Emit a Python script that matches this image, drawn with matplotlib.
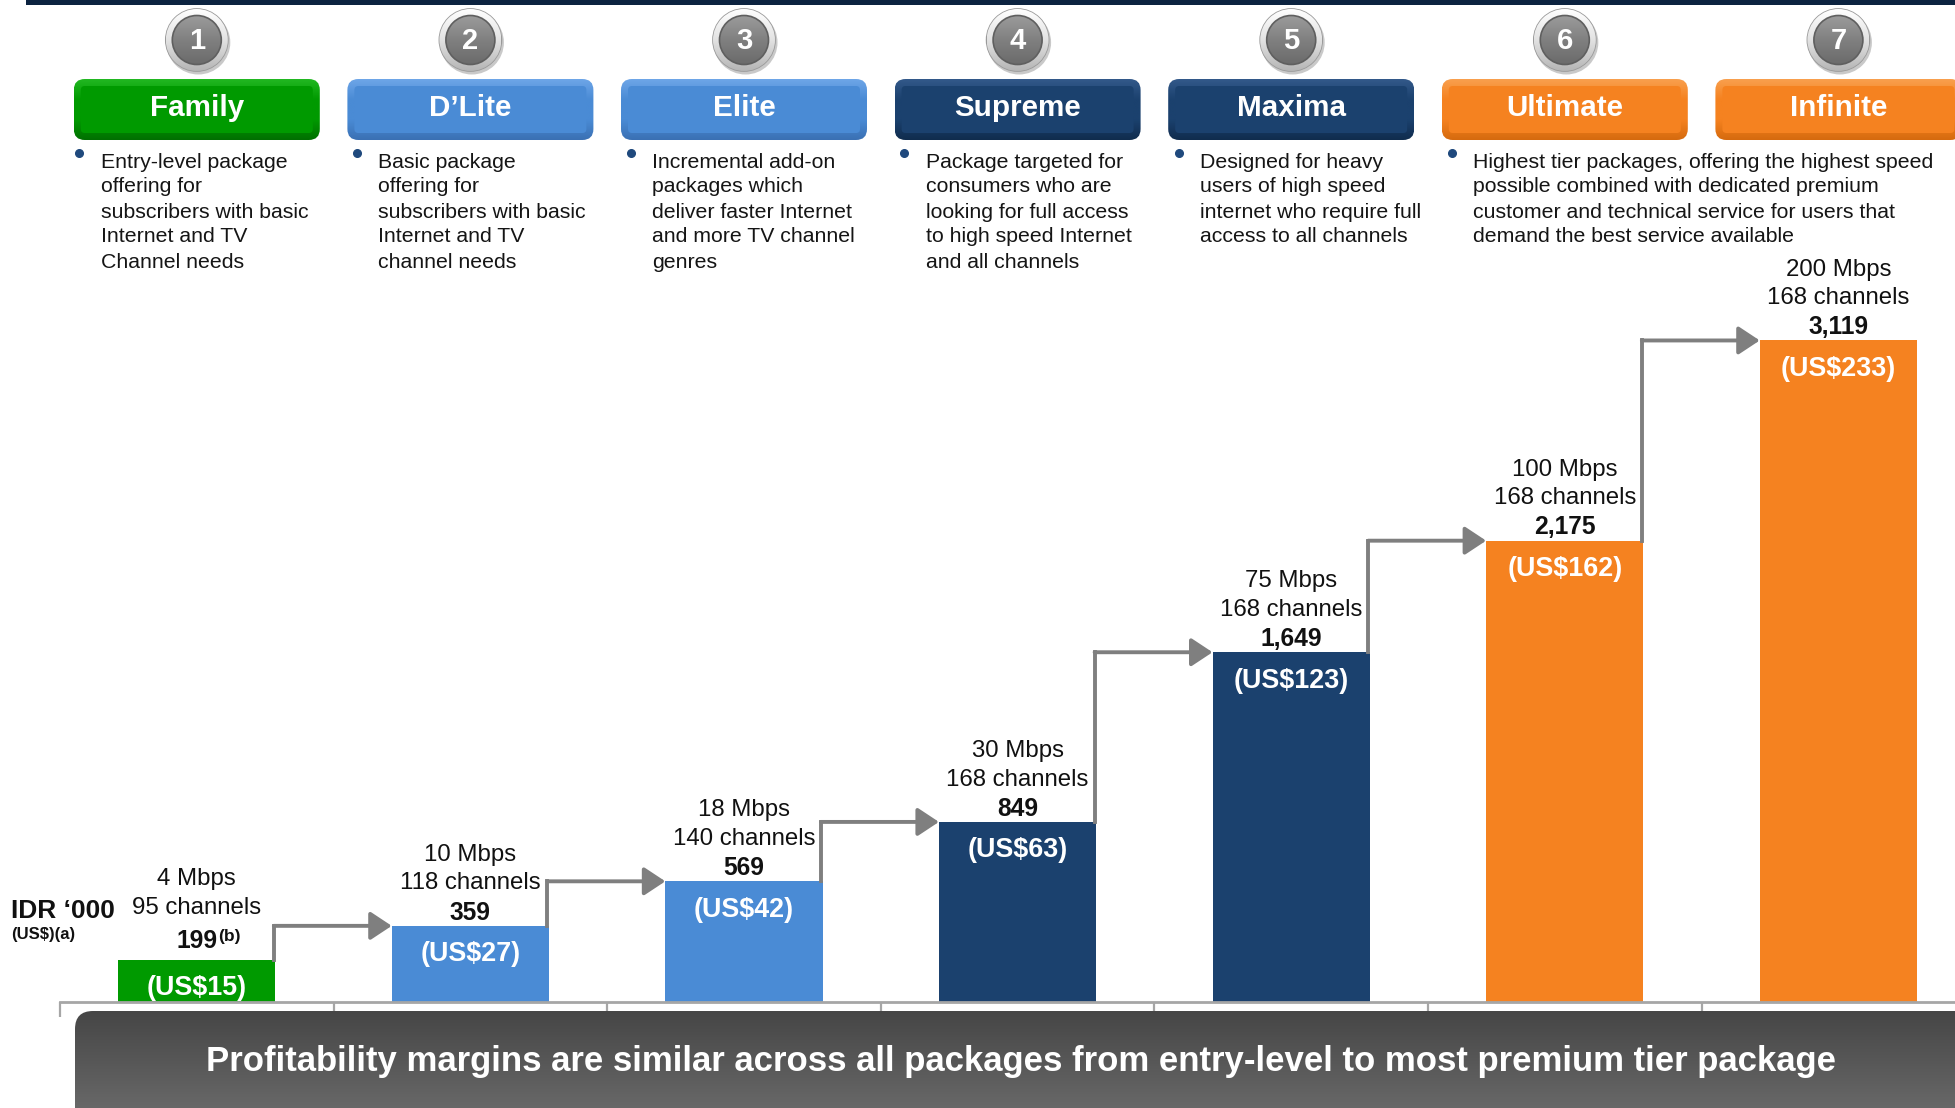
import numpy as np
import matplotlib
matplotlib.use("Agg")
import matplotlib.pyplot as plt
import matplotlib.colors as mcolors
from matplotlib.patches import FancyBboxPatch, Circle, Rectangle

plt.rcParams["font.family"] = ["Liberation Sans", "DejaVu Sans"]

# ---- data -------------------------------------------------------------
packages = ["Family", "D\u2019Lite", "Elite", "Supreme", "Maxima", "Ultimate", "Infinite"]
price_idr = [199, 359, 569, 849, 1649, 2175, 3119]          # IDR '000
price_usd = [15, 27, 42, 63, 123, 162, 233]                 # US$
speeds = ["4 Mbps", "10 Mbps", "18 Mbps", "30 Mbps", "75 Mbps", "100 Mbps", "200 Mbps"]
channels = [95, 118, 140, 168, 168, 168, 168]
tiers = ["green", "blue", "blue", "navy", "navy", "orange", "orange"]

descriptions = [
    "Entry-level package\noffering for\nsubscribers with basic\nInternet and TV\nChannel needs",
    "Basic package\noffering for\nsubscribers with basic\nInternet and TV\nchannel needs",
    "Incremental add-on\npackages which\ndeliver faster Internet\nand more TV channel\ngenres",
    "Package targeted for\nconsumers who are\nlooking for full access\nto high speed Internet\nand all channels",
    "Designed for heavy\nusers of high speed\ninternet who require full\naccess to all channels",
    "Highest tier packages, offering the highest speed\npossible combined with dedicated premium\n"
    "customer and technical service for users that\ndemand the best service available",
]

unit_label = "IDR \u2018000"
unit_sub = "(US$)(a)"
banner_text = ("Profitability margins are similar across all packages "
               "from entry-level to most premium tier package")

# colour sets: bar / box main, box light edge, box dark edge
palette = {
    "green":  ("#009a00", "#22b822", "#006f00"),
    "blue":   ("#4a8bd5", "#6ea6e8", "#3a70b3"),
    "navy":   ("#1b416e", "#33598a", "#102c4d"),
    "orange": ("#f58220", "#f9a04e", "#d56a0e"),
}

# ---- figure -------------------------------------------------------------
W, H = 1956, 1108
fig = plt.figure(figsize=(W / 100, H / 100), dpi=100)
fig.patch.set_facecolor("white")

pitch = 273.6          # px per category
ax_left = 60
px_per_unit = 0.2121
ymax = 3300
ax = fig.add_axes([ax_left / W, 106 / H, 7 * pitch / W, ymax * px_per_unit / H])
ax.patch.set_alpha(0)

x = np.arange(len(packages))
bw = 0.575
bar_colors = [palette[t][0] for t in tiers]
ax.bar(x, price_idr, width=bw, color=bar_colors, zorder=2)
ax.set_xlim(-0.5, 6.5)
ax.set_ylim(0, ymax)
for side in ["top", "right", "left"]:
    ax.spines[side].set_visible(False)
ax.spines["bottom"].set_color("#a6a6a6")
ax.spines["bottom"].set_linewidth(2)
ax.set_xticks(np.arange(-0.5, 7, 1))
ax.set_xticklabels([])
ax.set_yticks([])
ax.tick_params(axis="x", length=11, width=1.6, color="#a6a6a6", direction="out")

# value, speed and channel labels above each bar
for i, (v, usd, sp, ch) in enumerate(zip(price_idr, price_usd, speeds, channels)):
    if i == 0:
        offs = (13.5, 37.5, 58)
    else:
        offs = (9.5, 30.5, 51)
    ax.annotate(f"{v:,}", xy=(i, v), xytext=(0, offs[0]), textcoords="offset points",
                ha="center", va="center", fontsize=17.7, fontweight="bold", color="#111111")
    ax.annotate(f"{ch} channels", xy=(i, v), xytext=(0, offs[1]), textcoords="offset points",
                ha="center", va="center", fontsize=17.3, color="#111111")
    ax.annotate(sp, xy=(i, v), xytext=(0, offs[2]), textcoords="offset points",
                ha="center", va="center", fontsize=17.3, color="#111111")
    ax.annotate(f"(US${usd})", xy=(i, v), xytext=(0, -20.5), textcoords="offset points",
                ha="center", va="center", fontsize=19.4, fontweight="bold", color="white",
                zorder=3)
    if i == 0:
        ax.annotate("(b)", xy=(i, v), xytext=(15, offs[0] + 3.5), textcoords="offset points",
                    ha="left", va="center", fontsize=12.5, fontweight="bold", color="#111111")

# step arrows from each bar to the next
arrow_col = "#7f7f7f"
for i in range(len(packages) - 1):
    x0 = i + bw / 2 - 0.006
    x1 = i + 1 - bw / 2
    y0, y1 = price_idr[i], price_idr[i + 1]
    ax.plot([x0, x0], [y0, y1], color=arrow_col, lw=2.8, solid_capstyle="projecting", zorder=3)
    ax.annotate("", xy=(x1, y1), xytext=(x0, y1),
                arrowprops=dict(arrowstyle="-|>,head_length=0.65,head_width=0.43",
                                lw=2.8, color=arrow_col, shrinkA=0, shrinkB=0,
                                mutation_scale=20),
                zorder=3)

# ---- decorations drawn in pixel coordinates -------------------------------
deco = fig.add_axes([0, 0, 1, 1], zorder=3)
deco.patch.set_alpha(0)
deco.axis("off")


def vgradient(extent, colors, clip, z):
    grad = np.linspace(0, 1, 256)[:, None]
    cmap = mcolors.LinearSegmentedColormap.from_list("g", colors)
    im = deco.imshow(grad, extent=extent, cmap=cmap, aspect="auto",
                     origin="upper", zorder=z, interpolation="bilinear")
    im.set_clip_path(clip)
    return im


# thin navy rule along the top
deco.add_patch(Rectangle((26, 0), W, 5, color="#0c2340", lw=0, zorder=2))

centers = [ax_left + (i + 0.5) * pitch for i in range(len(packages))]

# numbered badges
for i, cx in enumerate(centers):
    cy = 40
    deco.add_patch(Circle((cx + 1.5, cy + 2.5), 32, color="#c9c9c9", lw=0, zorder=2))
    ring = Circle((cx, cy), 31, facecolor="none", edgecolor="#9a9a9a", lw=1.2, zorder=3)
    deco.add_patch(ring)
    vgradient((cx - 31, cx + 31, cy + 31, cy - 31), ["#ffffff", "#e2e2e2", "#b5b5b5"], ring, 3)
    inner = Circle((cx, cy), 24.5, facecolor="none", edgecolor="#5f5f5f", lw=1.2, zorder=5)
    deco.add_patch(inner)
    vgradient((cx - 25, cx + 25, cy + 25, cy - 25), ["#9c9c9c", "#808080", "#6a6a6a"], inner, 4)
    deco.text(cx, cy + 1, str(i + 1), ha="center", va="center", fontsize=21,
              fontweight="bold", color="white", zorder=6)

# package title boxes
bx_w, bx_y0, bx_h = 246, 79, 61
for i, (cx, name, t) in enumerate(zip(centers, packages, tiers)):
    main, light, dark = palette[t]
    x0 = cx - bx_w / 2
    outer = FancyBboxPatch((x0, bx_y0), bx_w, bx_h, boxstyle="round,pad=0,rounding_size=11",
                           facecolor="none", edgecolor="none", zorder=2)
    deco.add_patch(outer)
    vgradient((x0, x0 + bx_w, bx_y0 + bx_h, bx_y0), [light, main, main, dark], outer, 2)
    inner = FancyBboxPatch((x0 + 7, bx_y0 + 7), bx_w - 14, bx_h - 14,
                           boxstyle="round,pad=0,rounding_size=4",
                           facecolor=main, edgecolor="none", zorder=3)
    deco.add_patch(inner)
    deco.text(cx, bx_y0 + bx_h / 2 - 1, name, ha="center", va="center", fontsize=21.3,
              fontweight="bold", color="white", zorder=4)

# bullet descriptions
bullet_x = [79, 357, 631, 904, 1179, 1452]
text_x = [101, 378, 652, 926, 1200, 1473]
for bx, tx, d in zip(bullet_x, text_x, descriptions):
    deco.plot(bx, 153, "o", color="#1f497d", ms=5.5, zorder=4)
    deco.text(tx, 152.5, d, ha="left", va="top", fontsize=15.3, linespacing=1.4,
              color="#151515", zorder=4)

# unit label
deco.text(11, 911, unit_label, ha="left", va="center", fontsize=19,
          fontweight="bold", color="#111111")
deco.text(11, 934, unit_sub, ha="left", va="center", fontsize=12,
          fontweight="bold", color="#111111")

# bottom banner
ban = FancyBboxPatch((75, 1011), 2000, 140, boxstyle="round,pad=0,rounding_size=18",
                     facecolor="none", edgecolor="none", zorder=2)
deco.add_patch(ban)
vgradient((75, 2075, 1151, 1011), ["#464646", "#5e5e5e", "#787878"], ban, 2)
deco.text(1021, 1062, banner_text, ha="center", va="center", fontsize=25,
          fontweight="bold", color="white", zorder=4)

deco.set_xlim(0, W)
deco.set_ylim(H, 0)

fig.savefig("out.png", dpi=100)
